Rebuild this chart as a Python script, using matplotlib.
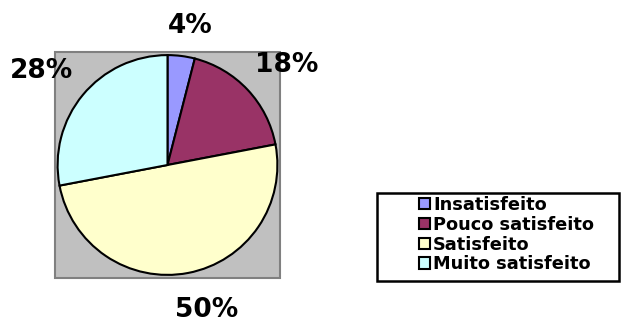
import matplotlib.pyplot as plt
from matplotlib.patches import Rectangle

plt.rcParams['font.family'] = ['DejaVu Sans']
plt.rcParams['font.weight'] = 'bold'

categories = ['Insatisfeito', 'Pouco satisfeito', 'Satisfeito', 'Muito satisfeito']
values = [4, 18, 50, 28]
colors = ['#9999FF', '#993366', '#FFFFCC', '#CCFFFF']
# where each percentage sits, in figure pixels (x centre, baseline from top)
label_pos = [(190, 33), (287, 72), (207, 317), (42, 78)]

W, H = 622, 322
fig = plt.figure(figsize=(W / 100, H / 100), dpi=100)
fig.patch.set_facecolor('white')


def frect(x0, y0, x1, y1, **kw):
    # rectangle given in figure pixels measured from the top-left corner
    return Rectangle((x0 / W, 1 - y1 / H), (x1 - x0) / W, (y1 - y0) / H,
                     transform=fig.transFigure, **kw)


# gray plot area behind the pie
fig.patches.append(frect(55, 52, 280, 278, facecolor='#C0C0C0',
                         edgecolor='#808080', linewidth=1.5, zorder=-5))

cx, cy, r = 167.5, 165, 111
ax = fig.add_axes([(cx - r) / W, 1 - (cy + r) / H, 2 * r / W, 2 * r / H])
ax.set_facecolor('none')
wedges, _ = ax.pie(values, colors=colors, startangle=90, counterclock=False,
                   radius=1, wedgeprops=dict(edgecolor='black', linewidth=1.5))
ax.set_xlim(-1.01, 1.01)
ax.set_ylim(-1.01, 1.01)
ax.set_aspect('auto')
ax.axis('off')

for v, (px, py) in zip(values, label_pos):
    fig.text(px / W, 1 - py / H, f'{v}%', fontsize=19, fontweight='bold',
             ha='center', va='baseline')

# legend box
fig.patches.append(frect(377, 193, 619, 281, facecolor='white',
                         edgecolor='black', linewidth=1.8, zorder=-5))
leg = fig.legend(wedges, categories, loc='upper left', fontsize=12.8,
                 bbox_to_anchor=(419 / W, 1 - 196 / H),
                 frameon=False, handlelength=0.6, handleheight=0.6,
                 handletextpad=0.2, labelspacing=0.1, borderpad=0,
                 borderaxespad=0)
for h in leg.legend_handles:
    h.set_edgecolor('black')
    h.set_linewidth(1.5)

fig.savefig('out.png', dpi=100)
